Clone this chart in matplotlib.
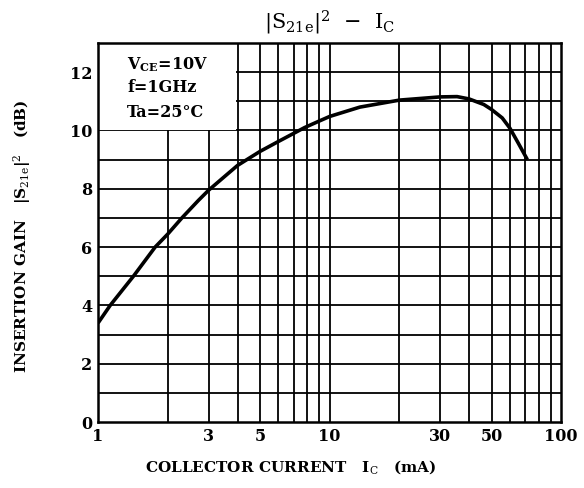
import matplotlib
matplotlib.use("Agg")
import matplotlib.pyplot as plt
import matplotlib.patches as patches
from matplotlib.ticker import FixedLocator, NullFormatter

# curve
ic_ma = [1.0, 1.127, 1.42, 1.763, 2.0, 2.3, 2.71, 3.0, 3.54, 4.0, 5.0, 6.0,
         7.8, 9.0, 10.0, 13.5, 20.0, 30.0, 35.5, 40.0, 46.3, 50.0, 55.6, 60.0,
         65.4, 71.4]
gain_db = [3.40, 4.0, 5.0, 6.0, 6.45, 7.0, 7.6, 7.95, 8.44, 8.8, 9.28, 9.62,
           10.1, 10.32, 10.48, 10.8, 11.04, 11.15, 11.16, 11.08, 10.89, 10.72,
           10.43, 10.08, 9.55, 9.0]

x_ticks = [1, 3, 5, 10, 30, 50, 100]
x_labels = ["1", "3", "5", "10", "30", "50", "100"]
y_ticks = [0, 2, 4, 6, 8, 10, 12]
conditions = ["V$_{\\mathbf{CE}}$=10V", "f=1GHz", "Ta=25\u00b0C"]
cond_y = [12.24, 11.46, 10.63]

plt.rcParams["font.family"] = "DejaVu Serif"
plt.rcParams["mathtext.fontset"] = "dejavuserif"

fig = plt.figure(figsize=(5.84, 4.88), dpi=100)
ax = fig.add_axes([0.168, 0.135, 0.793, 0.777])

ax.set_xscale("log")
ax.set_xlim(1, 100)
ax.set_ylim(0, 13)

# grid lines
minor_x = [2, 3, 4, 5, 6, 7, 8, 9, 20, 30, 40, 50, 60, 70, 80, 90]
for v in [10] + minor_x:
    ax.axvline(v, color="black", lw=1.3, zorder=1)
for h in range(1, 13):
    ax.axhline(h, color="black", lw=1.3, zorder=1)

# blank area behind the conditions text
ax.add_patch(patches.Rectangle((1, 10.03), 3.95 - 1, 3, facecolor="white",
                               edgecolor="none", zorder=2))

ax.plot(ic_ma, gain_db, color="black", lw=2.6, zorder=4,
        solid_joinstyle="round", solid_capstyle="butt")

ax.xaxis.set_major_locator(FixedLocator(x_ticks))
ax.xaxis.set_minor_locator(FixedLocator([]))
ax.xaxis.set_minor_formatter(NullFormatter())
ax.set_xticks(x_ticks)
ax.set_xticklabels(x_labels, fontsize=11.5, fontweight="bold")
ax.set_yticks(y_ticks)
ax.set_yticklabels([str(t) for t in y_ticks], fontsize=11.5, fontweight="bold")
ax.tick_params(axis="both", length=0, pad=4)

for s in ax.spines.values():
    s.set_linewidth(1.8)
    s.set_zorder(5)

for txt, yy in zip(conditions, cond_y):
    ax.text(1.335, yy, txt, fontsize=11.5, fontweight="bold", va="center",
            ha="left", zorder=5)

ax.set_xlabel("COLLECTOR CURRENT   I$_\\mathrm{C}$   (mA)", fontsize=11,
              fontweight="bold")
ax.xaxis.set_label_coords(0.415, -0.095)
ax.set_ylabel("INSERTION GAIN   |S$_\\mathrm{21e}$|$^2$   (dB)", fontsize=11,
              fontweight="bold")
ax.yaxis.set_label_coords(-0.14, 0.49)

fig.text(0.565, 0.953, "|S$_\\mathrm{21e}$|$^2$  \u2212  I$_\\mathrm{C}$",
         ha="center", va="center", fontsize=15)

fig.savefig("out.png", dpi=100)
